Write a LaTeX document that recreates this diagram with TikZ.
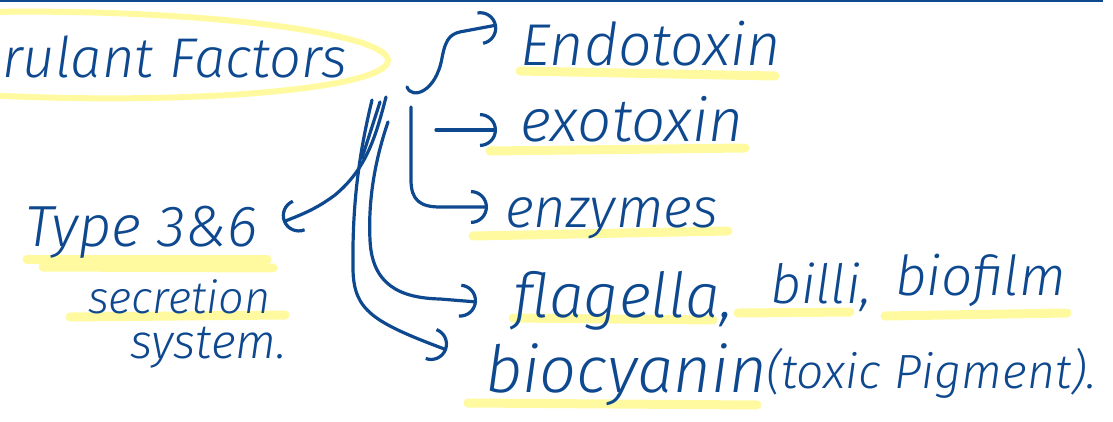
\documentclass[tikz,border=0pt]{standalone}
\usepackage{fontspec}
\usepackage{tikz}
\usetikzlibrary{arrows.meta,positioning,calc}
\IfFontExistsTF{Fira Sans Light Italic}
  {\newfontfamily\handfont{Fira Sans Light}[ItalicFont={Fira Sans Light Italic}]}
  {\newfontfamily\handfont{Fira Sans}}
\newcommand{\handsz}[1]{\handfont\itshape\fontsize{#1}{#1}\selectfont}
\definecolor{inkblue}{RGB}{14,72,142}
\definecolor{hlyellow}{RGB}{255,250,160}

\begin{document}
\begin{tikzpicture}[x=1pt,y=-1pt,>={Arc Barb[length=17pt]},
ink/.style={draw=inkblue,line width=3.2pt,line cap=round,line join=round},
flow/.style={ink,->},
hl/.style={draw=hlyellow,line width=9pt,line cap=round},
word/.style={text=inkblue,anchor=base west,inner sep=0pt}]
\useasboundingbox (0,0) rectangle (1113,422);
\clip (0,0) rectangle (1113,422);
\draw[draw=inkblue,line width=2.5pt] (0,1.2)--(1103,1.2);
\draw[hlyellow,line width=6pt,rotate around={-1:(70,55)}] (70,55) ellipse [x radius=318,y radius=43];
\draw[hl] (520,71)--(775,76);
\draw[hl] (490,151)--(745,148);
\draw[hl] (473,236)--(728,231);
\draw[hl] (513,318)--(713,320);
\draw[hl] (738,313)--(850,312);
\draw[hl] (885,316)--(1067,313);
\draw[hl] (468,403)--(757,405);
\draw[hl] (27,259)--(267,259);
\draw[hl] (43,267)--(273,268);
\draw[hl] (70,317)--(285,315);
\node[word,font=\handsz{56}] (factors) at (2,78) {rulant Factors};
\node[word,font=\handsz{59}] (endo) at (520,66) {Endotoxin};
\node[word,font=\handsz{60}] (exo) at (520,142) {exotoxin};
\node[word,font=\handsz{56}] (enz) at (505,227) {enzymes};
\node[word,font=\handsz{62}] (flag) at (513,317) {flagella,};
\node[word,font=\handsz{54}] (pili) at (770,303) {billi,};
\node[word,font=\handsz{55}] (film) at (895,295) {biofilm};
\node[word,font=\handsz{65}] (pyo) at (485,392) {biocyanin};
\node[word,font=\handsz{48}] (pigment) at (766,388) {(toxic Pigment).};
\node[word,font=\handsz{58}] (type) at (25,246) {Type 3\&6};
\node[word,font=\handsz{45}] (secr) at (88,313) {secretion};
\node[word,font=\handsz{48}] (sys) at (130,358) {system.};
\coordinate (hubF) at (407,87);
\coordinate (hubE) at (436,130);
\coordinate (hubD) at (411,107);
\coordinate (hubC) at (388,122);
\coordinate (hubB) at (372,100);
\coordinate (hubA) at (386,97);
\draw[flow] (hubF) .. controls (412,100) and (436,92) .. (442,58) .. controls (446,36) and (452,33) .. (465,31) -- ([shift={(-23,-41)}]endo.base west);
\draw[flow] (hubE) -- ([shift={(-23,-12)}]exo.base west);
\draw[flow] (hubD) -- (411,180) .. controls (411,200) and (420,207) .. (440,207) -- ([shift={(-17,-20)}]enz.base west);
\draw[flow] (hubC) .. controls (375,160) and (368,200) .. (370,240) .. controls (372,285) and (400,298) .. (440,299) -- ([shift={(-36,-15)}]flag.base west);
\draw[flow] (hubB) .. controls (360,150) and (352,200) .. (353,270) .. controls (354,310) and (372,322) .. ([shift={(-38,-42)}]pyo.base west);
\draw[flow] (hubA) .. controls (375,140) and (365,170) .. (335,195) .. controls (315,210) and (300,215) .. ([shift={(258,-24)}]type.base west);
\draw[ink] (362,158)--(380,102);
\end{tikzpicture}
\end{document}
